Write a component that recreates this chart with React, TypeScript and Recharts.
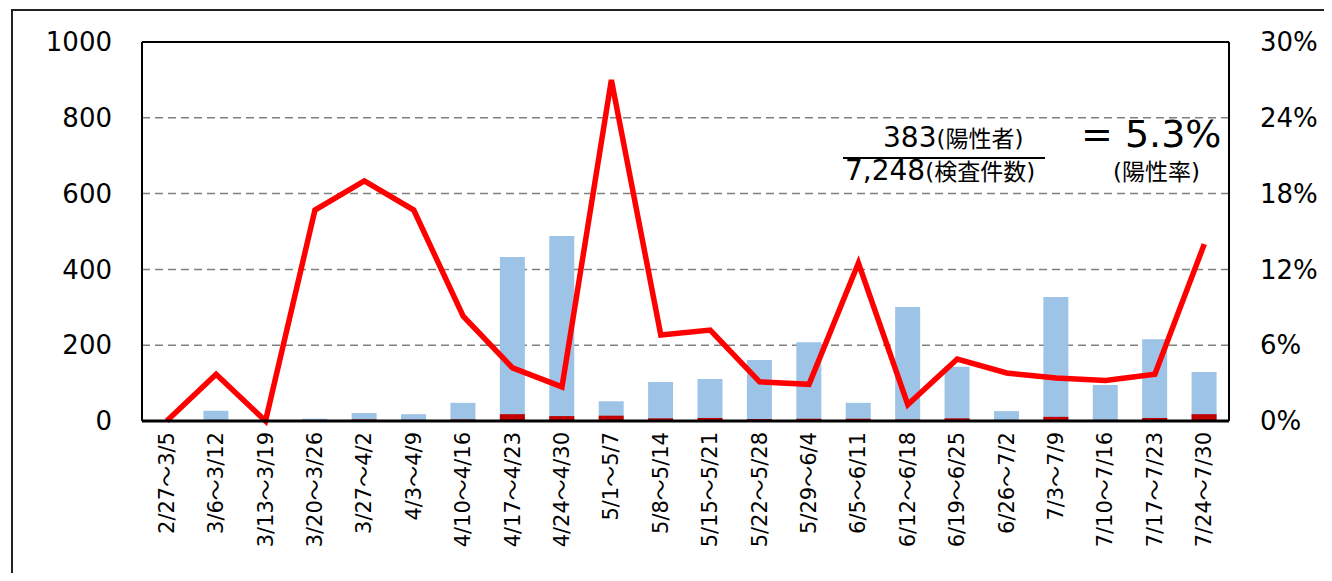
import React from 'react';
import { ComposedChart, Bar, Line, XAxis, YAxis, CartesianGrid, ReferenceLine } from 'recharts';

const FONT = "'DejaVu Sans', 'Noto Sans CJK JP', sans-serif";

// weekly periods
const weeks = [
  '2/27～3/5', '3/6～3/12', '3/13～3/19', '3/20～3/26', '3/27～4/2', '4/3～4/9',
  '4/10～4/16', '4/17～4/23', '4/24～4/30', '5/1～5/7', '5/8～5/14', '5/15～5/21',
  '5/22～5/28', '5/29～6/4', '6/5～6/11', '6/12～6/18', '6/19～6/25', '6/26～7/2',
  '7/3～7/9', '7/10～7/16', '7/17～7/23', '7/24～7/30',
];
// 検査件数
const tests = [2, 27, 1, 6, 21, 18, 48, 433, 488, 52, 103, 111, 161, 208, 48, 301, 143, 26, 327, 95, 216, 129];
// 陽性者数
const positives = [0, 1, 0, 1, 4, 3, 4, 18, 13, 14, 7, 8, 5, 6, 6, 4, 7, 1, 11, 3, 8, 18];
// 陽性率 (%)
const rates = [0, 3.7, 0, 16.7, 19.0, 16.7, 8.3, 4.2, 2.7, 27.0, 6.8, 7.2, 3.1, 2.9, 12.5, 1.3, 4.9, 3.8, 3.4, 3.2, 3.7, 14.0];

const leftTicks = [0, 200, 400, 600, 800, 1000];
const rightTicks = [0, 6, 12, 18, 24, 30];

const chartData = weeks.map((w, i) => ({ week: w, tests: tests[i], positives: positives[i], rate: rates[i] }));

const WeekTick = (props: any) => {
  const { x, y, payload } = props;
  return (
    <g transform={`translate(${x},${y + 3})`}>
      <text
        transform="rotate(-90)"
        textAnchor="end"
        dominantBaseline="central"
        fontSize={21}
        fontFamily={FONT}
        fill="#000"
      >
        {payload.value}
      </text>
    </g>
  );
};

export default function App() {
  return (
    <div style={{ position: 'relative', width: 1332, height: 581, margin: -8, overflow: 'hidden', background: '#fff', fontFamily: FONT }}>
      <div style={{ position: 'absolute', left: 11, top: 9, width: 1400, height: 700, border: '2px solid #222', boxSizing: 'border-box' }} />
      <div style={{ position: 'absolute', left: 0, top: 0 }}>
        <ComposedChart
          width={1332}
          height={581}
          data={chartData}
          margin={{ top: 42, right: 3, left: 42, bottom: 10 }}
          barGap={-25}
        >
          <CartesianGrid yAxisId="left" vertical={false} stroke="#808080" strokeWidth={1.5} strokeDasharray="8 5" />
          <XAxis
            dataKey="week"
            interval={0}
            height={150}
            tickLine={false}
            axisLine={{ stroke: '#000', strokeWidth: 3 }}
            tick={<WeekTick />}
          />
          <YAxis
            yAxisId="left"
            domain={[0, 1000]}
            ticks={leftTicks}
            width={100}
            tickLine={false}
            tickSize={0}
            tickMargin={30}
            axisLine={{ stroke: '#000', strokeWidth: 2 }}
            tick={{ fontSize: 26, fill: '#000', fontFamily: FONT }}
          />
          <YAxis
            yAxisId="right"
            orientation="right"
            domain={[0, 30]}
            ticks={rightTicks}
            width={100}
            tickLine={false}
            tickSize={0}
            tickMargin={31}
            tickFormatter={(v: number) => `${v}%`}
            axisLine={{ stroke: '#000', strokeWidth: 2 }}
            tick={{ fontSize: 26, fill: '#000', fontFamily: FONT, textAnchor: 'start' }}
          />
          <ReferenceLine yAxisId="left" y={1000} stroke="#000" strokeWidth={2} />
          <Bar yAxisId="left" dataKey="tests" fill="#9DC3E6" barSize={25} isAnimationActive={false} />
          <Bar yAxisId="left" dataKey="positives" fill="#C00000" barSize={25} isAnimationActive={false} />
          <Line
            yAxisId="right"
            type="linear"
            dataKey="rate"
            stroke="#FF0000"
            strokeWidth={5.5}
            dot={false}
            isAnimationActive={false}
          />
        </ComposedChart>
      </div>
      <svg width={1332} height={581} style={{ position: 'absolute', left: 0, top: 0, pointerEvents: 'none' }}>
        <text x={883} y={147} fontFamily={FONT} fill="#000">
          <tspan fontSize={28}>383</tspan>
          <tspan fontSize={23}>(陽性者)</tspan>
        </text>
        <line x1={843} y1={158} x2={1045} y2={158} stroke="#000" strokeWidth={2} />
        <text x={845} y={180} fontFamily={FONT} fill="#000">
          <tspan fontSize={28}>7,248</tspan>
          <tspan fontSize={23}>(検査件数)</tspan>
        </text>
        <text x={1081} y={147} fontFamily={FONT} fill="#000" fontSize={38}>= 5.3%</text>
        <text x={1113} y={180} fontFamily={FONT} fill="#000" fontSize={23}>(陽性率)</text>
      </svg>
    </div>
  );
}
